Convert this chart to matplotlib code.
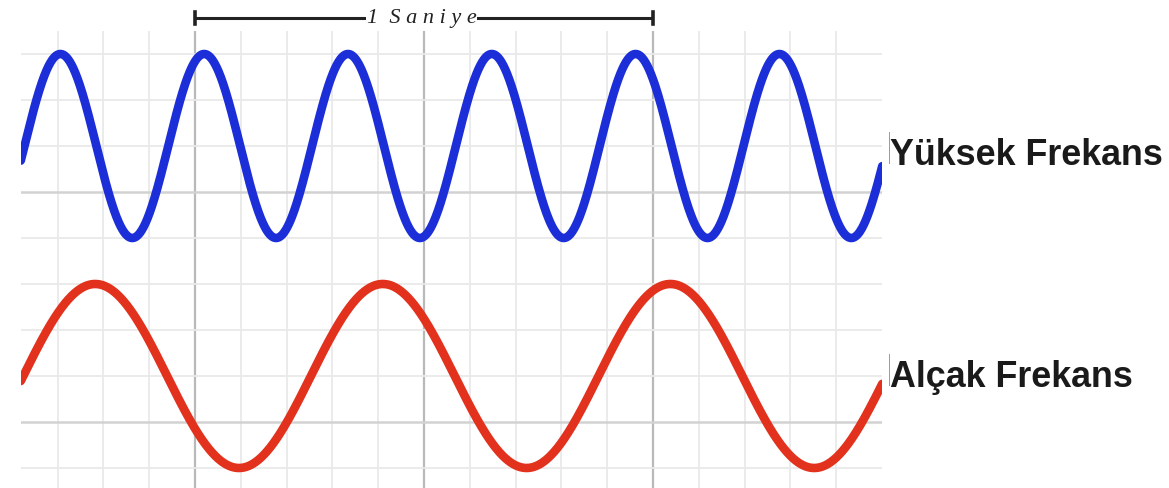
import numpy as np
import matplotlib
matplotlib.use("Agg")
import matplotlib.pyplot as plt

# ---- data (grid units; 1 grid cell = 1 unit) ----
wave_names = ["Yüksek Frekans", "Alçak Frekans"]
wave_colors = ["#1b2ed8", "#e2311d"]
wave_periods = [3.14, 6.28]        # grid units per cycle
wave_peak_x = [0.20, 4.10]         # x of one crest
wave_centers = [1.0, -4.0]         # mid-line of each wave
wave_amplitudes = [2.0, 2.0]
second_span = [0.0, 10.0]          # "1 Saniye" bracket
second_label = "1  S a n i y e"

x_min, x_max = -3.80, 15.0
y_min, y_max = -6.435, 3.5
v_grid = np.arange(-3, 15)
h_grid = np.arange(-6, 4)
major_every = 5

W, H = 1169, 488
fig = plt.figure(figsize=(W / 100, H / 100), dpi=100)
ax = fig.add_axes([21 / W, 0, (882 - 21) / W, (488 - 31) / H])
ax.set_xlim(x_min, x_max)
ax.set_ylim(y_min, y_max)
ax.axis("off")

for gx in v_grid:
    major = gx % major_every == 0
    ax.axvline(gx, color="#b9b9b9" if major else "#e9e9e9",
               lw=1.6 if major else 1.3, zorder=1)
for gy in h_grid:
    major = gy % major_every == 0
    ax.axhline(gy, color="#d2d2d2" if major else "#e9e9e9",
               lw=1.8 if major else 1.3, zorder=1)

xs = np.linspace(x_min - 0.5, x_max + 0.5, 2000)
for name, c, p, px, cy, a in zip(wave_names, wave_colors, wave_periods,
                                  wave_peak_x, wave_centers, wave_amplitudes):
    ys = cy + a * np.cos(2 * np.pi * (xs - px) / p)
    ax.plot(xs, ys, color=c, lw=6.2, solid_capstyle="round", zorder=3)

# bracket "1 Saniye"
by = (192 - 18) / 46
th = 0.14
ax.plot(second_span, [by, by], color="#222222", lw=2.2, clip_on=False,
        solid_capstyle="butt", zorder=4)
for sx in second_span:
    ax.plot([sx, sx], [by - th, by + th], color="#222222", lw=2.6,
            clip_on=False, zorder=4)
ax.text(sum(second_span) / 2 - 0.05, by, second_label, ha="center", va="center",
        fontsize=16, family="Liberation Serif", style="italic", color="#222222",
        bbox=dict(facecolor="white", edgecolor="none", pad=0.6), zorder=5,
        clip_on=False)

# labels on the right
label_baselines = [165, 387]
for name, bl in zip(wave_names, label_baselines):
    fig.text(890 / W, 1 - bl / H, name, ha="left", va="baseline",
             fontsize=25.8, fontweight="bold", family="Liberation Sans",
             color="#1a1a1a")
    fig.add_artist(plt.Line2D([889 / W, 889 / W], [1 - (bl - 2) / H, 1 - (bl - 33) / H],
                              color="#9a9a9a", lw=0.7))

fig.savefig("out.png", dpi=100, facecolor="white")
